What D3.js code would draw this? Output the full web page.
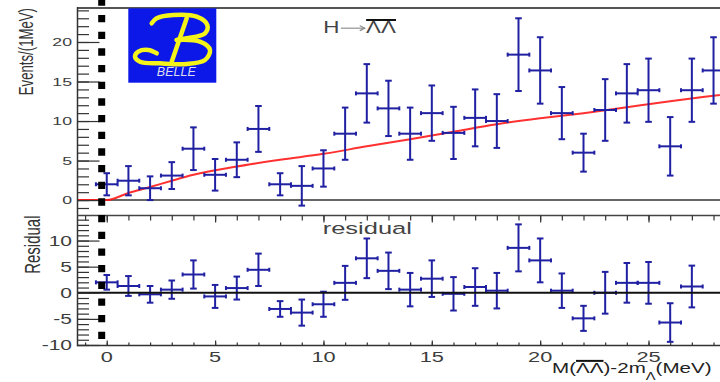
<!DOCTYPE html>
<html>
<head>
<meta charset="utf-8">
<script src="https://cdn.jsdelivr.net/npm/d3@7"></script>
<style>
  body { margin: 0; background: #fff; }
  svg { display: block; font-family: "Liberation Sans", Arial, sans-serif; }
</style>
</head>
<body>
<div id="chart"></div>
<script>
// ---- data (1 MeV bins) ----
const massBins = [0, 1, 2, 3, 4, 5, 6, 7, 8, 9, 10, 11, 12, 13, 14, 15, 16, 17, 18, 19, 20, 21, 22, 23, 24, 25, 26, 27, 28];
const eventCounts = [2.0, 2.45, 1.5, 3.1, 6.5, 3.2, 5.1, 9.0, 2.0, 1.8, 4.0, 8.4, 13.5, 11.6, 8.4, 11.0, 8.5, 10.4, 10.0, 18.4, 16.4, 11.0, 6.0, 11.4, 13.5, 13.9, 6.8, 13.9, 16.4];
const eventErrors = [1.4, 1.85, 1.5, 1.7, 2.7, 2.0, 2.2, 2.9, 1.4, 2.5, 2.3, 3.3, 3.7, 3.5, 3.3, 3.5, 3.3, 3.6, 3.4, 4.6, 4.2, 3.3, 2.4, 3.9, 3.7, 4.0, 3.7, 4.0, 4.2];

const residualBins = [0, 1, 2, 3, 4, 5, 6, 7, 8, 9, 10, 11, 12, 13, 14, 15, 16, 17, 18, 19, 20, 21, 22, 23, 24, 25, 26, 27];
const residuals = [2.0, 1.3, -0.3, 0.6, 3.5, -0.7, 0.9, 4.4, -3.1, -3.8, -2.2, 1.9, 6.6, 4.2, 0.6, 2.7, -0.2, 1.1, 0.4, 8.6, 6.2, 0.4, -4.9, 0.0, 1.9, 1.9, -5.7, 1.2];
const residualErrors = [1.4, 1.9, 1.6, 1.75, 2.7, 2.2, 2.2, 3.1, 1.5, 2.5, 2.4, 3.25, 3.8, 3.5, 3.2, 3.5, 3.2, 3.6, 3.4, 4.5, 4.2, 3.3, 2.4, 4.0, 3.8, 4.0, 3.7, 4.0];

// fit curve, sampled from the red line
const fitMass = [-1.35, 0, 1, 2, 3, 4, 6, 8, 10, 12, 14, 16, 18, 20, 22, 24, 26, 28, 29.6];
const fitValue = [0, 0, 0.9, 1.65, 2.45, 3.2, 4.25, 5.1, 5.85, 6.8, 7.7, 8.65, 9.6, 10.35, 11.0, 11.75, 12.5, 13.2, 13.75];

const xTickValues = [0, 5, 10, 15, 20, 25];
const yTopTickValues = [0, 5, 10, 15, 20];
const yResTickValues = [-10, -5, 0, 5, 10];

// ---- layout ----
const width = 720, height = 382;
const SX = 1.5;   // the original picture is stretched sideways, text too

const svg = d3.select("#chart").append("svg")
    .attr("width", width)
    .attr("height", height);

const x = d3.scaleLinear().domain([-1.35, 29.6]).range([77.5, 748.2]);
const yTop = d3.scaleLinear().domain([-1.95, 24.3]).range([215.5, 8]);
const yRes = d3.scaleLinear().domain([-10.1, 14.8]).range([345.5, 215.5]);

const left = x(-1.35), right = width;

// stretched text helper
function sText(parent, px, py, str, size, anchor, fill, extra) {
    const g = parent.append("g")
        .attr("transform", "translate(" + px + "," + py + ") scale(" + SX + ",1)" + (extra || ""));
    g.append("text")
        .attr("text-anchor", anchor)
        .attr("font-size", size)
        .attr("fill", fill)
        .text(str);
    return g;
}

// text made of pieces, some with an overline, or a drawn arrow
function pieceText(px, py, sx, pieces) {
    const g = svg.append("g").attr("transform", "translate(" + px + "," + py + ") scale(" + sx + ",1)");
    let cursor = 0;
    pieces.forEach(p => {
        if (p.arrow) {
            const ay = -p.size * 0.32, x0 = cursor + 1, x1 = cursor + p.arrow - 1;
            g.append("line")
                .attr("x1", x0).attr("x2", x1).attr("y1", ay).attr("y2", ay)
                .attr("stroke", p.fill).attr("stroke-width", 1.1);
            g.append("path")
                .attr("d", "M" + (x1 - 3.5) + "," + (ay - 2.6) + "L" + x1 + "," + ay + "L" + (x1 - 3.5) + "," + (ay + 2.6))
                .attr("fill", "none").attr("stroke", p.fill).attr("stroke-width", 1.1);
            cursor += p.arrow;
            return;
        }
        const t = g.append("text")
            .attr("x", cursor)
            .attr("y", p.dy || 0)
            .attr("font-size", p.size)
            .attr("fill", p.fill)
            .text(p.t);
        const w = t.node().getComputedTextLength();
        if (p.over) {
            g.append("line")
                .attr("x1", cursor).attr("x2", cursor + w)
                .attr("y1", -p.size * 0.83).attr("y2", -p.size * 0.83)
                .attr("stroke", "#111").attr("stroke-width", 2);
        }
        cursor += w;
    });
    return g;
}

// ---- zero lines ----
svg.append("line")
    .attr("x1", left).attr("x2", right)
    .attr("y1", yTop(0)).attr("y2", yTop(0))
    .attr("stroke", "#666").attr("stroke-width", 2);

// ---- fit ----
const fitLine = d3.line()
    .x((d, i) => x(fitMass[i]))
    .y(d => yTop(d))
    .curve(d3.curveMonotoneX);

svg.append("path")
    .datum(fitValue)
    .attr("d", fitLine)
    .attr("fill", "none")
    .attr("stroke", "#ff1a1a")
    .attr("stroke-opacity", 0.9)
    .attr("stroke-width", 2);

// ---- error bar points ----
const blue = "#2020a2";

function drawPoints(bins, vals, errs, y) {
    const g = svg.append("g")
        .attr("stroke", blue)
        .attr("stroke-width", 2)
        .attr("fill", "none");
    const pts = g.selectAll("g.pt")
        .data(bins.map((b, i) => ({b: b, v: vals[i], e: errs[i]})))
        .join("g").attr("class", "pt");

    pts.append("line")
        .attr("x1", d => x(d.b)).attr("x2", d => x(d.b))
        .attr("y1", d => y(d.v - d.e)).attr("y2", d => y(d.v + d.e));
    pts.append("line")
        .attr("x1", d => x(d.b - 0.5)).attr("x2", d => x(d.b + 0.5))
        .attr("y1", d => y(d.v)).attr("y2", d => y(d.v));
    // caps
    [-1, 1].forEach(s => {
        pts.append("line")
            .attr("x1", d => x(d.b) - 3.3).attr("x2", d => x(d.b) + 3.3)
            .attr("y1", d => y(d.v + s * d.e)).attr("y2", d => y(d.v + s * d.e));
        pts.append("line")
            .attr("x1", d => x(d.b + s * 0.5)).attr("x2", d => x(d.b + s * 0.5))
            .attr("y1", d => y(d.v) - 2).attr("y2", d => y(d.v) + 2);
    });
}

drawPoints(massBins, eventCounts, eventErrors, yTop);
drawPoints(residualBins, residuals, residualErrors, yRes);

svg.append("line")
    .attr("x1", left).attr("x2", right)
    .attr("y1", yRes(0)).attr("y2", yRes(0))
    .attr("stroke", "#111").attr("stroke-width", 2);

// ---- frames ----
svg.append("line").attr("x1", left).attr("x2", right).attr("y1", 8).attr("y2", 8)
    .attr("stroke", "#555").attr("stroke-width", 2);
svg.append("line").attr("x1", left).attr("x2", left).attr("y1", 7).attr("y2", 346.3)
    .attr("stroke", "#333").attr("stroke-width", 1.5);
svg.append("line").attr("x1", left).attr("x2", right).attr("y1", 215.5).attr("y2", 215.5)
    .attr("stroke", "#444").attr("stroke-width", 1.5);
svg.append("line").attr("x1", left).attr("x2", right).attr("y1", 345.5).attr("y2", 345.5)
    .attr("stroke", "#333").attr("stroke-width", 1.5);

// ---- ticks ----
function tickGroup(axis, tx, ty) {
    svg.append("g")
        .attr("transform", "translate(" + tx + "," + ty + ")")
        .call(axis)
        .call(g => g.select(".domain").remove())
        .call(g => g.selectAll(".tick line").attr("stroke", "#333").attr("stroke-width", 1.2));
}

const xMinor = d3.range(-1, 30);
tickGroup(d3.axisBottom(x).tickValues(xMinor).tickSize(5).tickFormat(""), 0, 215.5);
tickGroup(d3.axisBottom(x).tickValues(xTickValues).tickSize(7).tickFormat(""), 0, 215.5);
tickGroup(d3.axisTop(x).tickValues(xMinor).tickSize(3).tickFormat(""), 0, 345.5);
tickGroup(d3.axisTop(x).tickValues(xTickValues).tickSize(5).tickFormat(""), 0, 345.5);

tickGroup(d3.axisRight(yTop).tickValues(d3.range(-1, 25)).tickSize(11.5).tickFormat(""), left, 0);
tickGroup(d3.axisRight(yTop).tickValues(yTopTickValues).tickSize(22).tickFormat(""), left, 0);
tickGroup(d3.axisRight(yRes).tickValues(d3.range(-10, 15)).tickSize(11.5).tickFormat(""), left, 0);
tickGroup(d3.axisRight(yRes).tickValues(yResTickValues).tickSize(22).tickFormat(""), left, 0);

// ---- tick labels ----
const labelColor = "#3c3c3c";
yTopTickValues.forEach(v => sText(svg, 72, yTop(v) + 4.3, String(v), 11.8, "end", labelColor));
yResTickValues.forEach(v => sText(svg, 72, yRes(v) + 5, String(v), 14, "end", labelColor));
xTickValues.forEach(v => sText(svg, x(v), 361.8, String(v), 14.5, "middle", labelColor));

// ---- axis titles ----
sText(svg, 33.3, 8, "Events/(1MeV)", 13.2, "end", "#333", " rotate(-90)");
sText(svg, 40, 215.5, "Residual", 15, "end", "#333", " rotate(-90)");

pieceText(552, 372.5, 1.47, [
    {t: "M(", size: 14, fill: "#222"},
    {t: "ΛΛ", size: 14, fill: "#222", over: true},
    {t: ")-2m", size: 14, fill: "#222"},
    {t: "Λ", size: 10, fill: "#222", dy: 7},
    {t: "(MeV)", size: 14, fill: "#222"}
]);

// ---- titles inside the pads ----
pieceText(323.3, 33.3, 1.4, [
    {t: "H", size: 16, fill: "#444"},
    {arrow: 19, size: 16, fill: "#888"},
    {t: "ΛΛ", size: 16, fill: "#444", over: true}
]);
sText(svg, 322.7, 234.3, "residual", 17, "start", "#444");

// ---- Belle logo ----
const logo = svg.append("g").attr("transform", "translate(128.3,8.3)");
logo.append("rect").attr("width", 88).attr("height", 74.4).attr("fill", "#0c18e8");
const bLine = d3.line().curve(d3.curveCatmullRom);
const bStrokes = [
    [[23.4, 15], [28.4, 10], [45, 6.7], [68.4, 8.4], [79, 16.7], [76.7, 25], [58.4, 30], [48.4, 31.7]],
    [[48.4, 31.7], [71.7, 33.4], [81.7, 41.7], [76.7, 51.7], [58.4, 55.7], [31.7, 55], [11.7, 53.4], [6.7, 48.4], [10, 43.4], [20, 41.7], [28.4, 45]],
    [[58.4, 10], [43.4, 53.4]]
];
bStrokes.forEach(s => logo.append("path")
    .attr("d", bLine(s))
    .attr("fill", "none")
    .attr("stroke", "#f4f41a")
    .attr("stroke-width", 4.5)
    .attr("stroke-linecap", "round"));
logo.append("text")
    .attr("x", 48).attr("y", 67.5)
    .attr("text-anchor", "middle")
    .attr("font-size", 12.5)
    .attr("font-style", "italic")
    .attr("fill", "#dcdcec")
    .text("BELLE");

// ---- thick dashed vertical line ----
svg.append("line")
    .attr("x1", 101.7).attr("x2", 101.7)
    .attr("y1", -1.67).attr("y2", 340)
    .attr("stroke", "#000")
    .attr("stroke-width", 7)
    .attr("stroke-dasharray", "7.3 9.37");
</script>
</body>
</html>
